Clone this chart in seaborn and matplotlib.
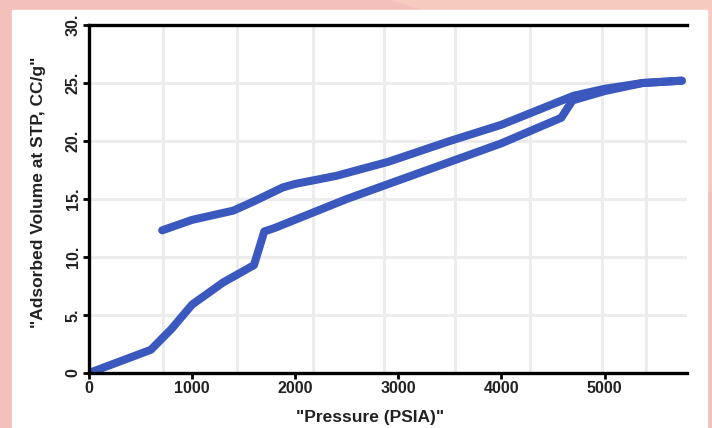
import matplotlib
matplotlib.use("Agg")
import matplotlib.pyplot as plt
from matplotlib.patches import Rectangle, Polygon
import seaborn as sns

# adsorption branch (pressure up)
ads_p = [0, 300, 600, 800, 1000, 1300, 1600, 1700, 1800, 2500, 3000, 3500, 4000, 4580, 4690, 5000, 5370, 5750]
ads_v = [0, 1.0, 2.0, 3.8, 5.9, 7.8, 9.3, 12.2, 12.5, 15.0, 16.6, 18.2, 19.8, 22.0, 23.5, 24.3, 25.0, 25.2]

# desorption branch (pressure down)
des_p = [5750, 5370, 5000, 4700, 4000, 3500, 2900, 2400, 2000, 1880, 1600, 1400, 1000, 710]
des_v = [25.2, 25.0, 24.5, 23.9, 21.4, 20.0, 18.2, 17.0, 16.3, 16.0, 14.8, 14.0, 13.2, 12.3]

x_ticks = [0, 1000, 2000, 3000, 4000, 5000]
x_labels = ["0", "1000", "2000", "3000", "4000", "5000"]
y_ticks = [0, 5, 10, 15, 20, 25, 30]
y_labels = ["0", "5.", "10.", "15.", "20.", "25.", "30."]
grid_x = [717, 1434, 2170, 2858, 3547, 4273, 4971, 5407]
grid_y = [5, 10, 15, 20, 25]

sns.set_theme(style="white")
plt.rcParams["font.family"] = ["Liberation Sans", "DejaVu Sans"]

blue = "#3a58bd"

fig = plt.figure(figsize=(7.12, 4.28), dpi=100, facecolor="#f4c0bb")
# lighter peach patch top right + white card
fig.add_artist(Polygon([[0.55, 1.0], [1.0, 1.0], [1.0, 0.55], [0.75, 0.9]],
                       closed=True, transform=fig.transFigure, color="#f6cbbd", zorder=0))
fig.add_artist(Rectangle((12 / 712, 0), (707 - 12) / 712, (428 - 10) / 428,
                         transform=fig.transFigure, color="white", zorder=0))

ax = fig.add_axes([89 / 712, 1 - 373 / 428, (687 - 89) / 712, (373 - 25) / 428])
ax.set_facecolor("none")

for gx in grid_x:
    ax.axvline(gx, color="#ececec", lw=2.2, zorder=0)
for gy in grid_y:
    ax.axhline(gy, color="#ececec", lw=2.2, zorder=0)

sns.lineplot(x=ads_p, y=ads_v, sort=False, estimator=None, ax=ax,
             color=blue, lw=5.8, solid_capstyle="round", solid_joinstyle="round")
sns.lineplot(x=des_p, y=des_v, sort=False, estimator=None, ax=ax,
             color=blue, lw=5.8, solid_capstyle="round", solid_joinstyle="round")

ax.set_xlim(0, 5800)
ax.set_ylim(0, 30)
ax.set_xticks(x_ticks)
ax.set_xticklabels(x_labels)
ax.set_yticks(y_ticks)
ax.set_yticklabels(y_labels, rotation=90, va="center")

for side in ["left", "bottom", "top"]:
    ax.spines[side].set_visible(True)
    ax.spines[side].set_color("black")
    ax.spines[side].set_linewidth(2.4)
ax.spines["right"].set_visible(False)

ax.tick_params(axis="both", direction="out", length=4, width=2, color="black",
               labelsize=11.5, labelcolor="#222222", pad=2, bottom=True, left=True)
for lab in ax.get_xticklabels() + ax.get_yticklabels():
    lab.set_fontweight("bold")

ax.set_xlabel('"Pressure (PSIA)"', fontsize=12.5, fontweight="bold", color="#222222")
ax.set_ylabel('"Adsorbed Volume at STP, CC/g"', fontsize=12.5, fontweight="bold", color="#222222")
ax.xaxis.set_label_coords(0.47, -0.105)
ax.yaxis.set_label_coords(-0.072, 0.52)

fig.savefig("out.png", dpi=100, facecolor=fig.get_facecolor())
